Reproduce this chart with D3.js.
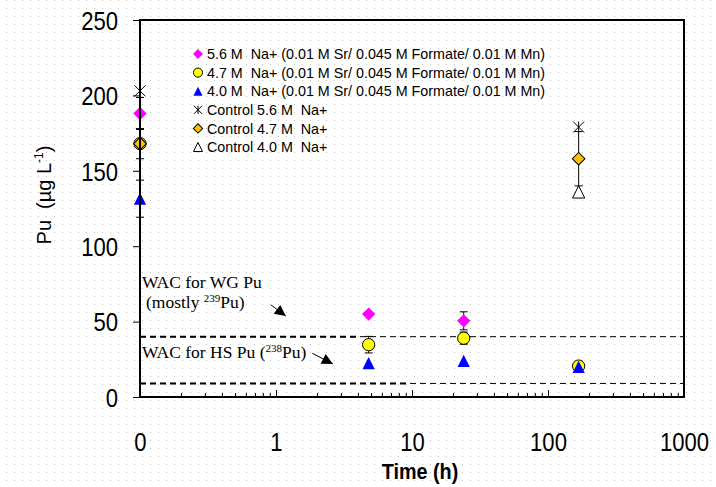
<!DOCTYPE html>
<html>
<head>
<meta charset="utf-8">
<script src="https://cdn.jsdelivr.net/npm/d3@7"></script>
<style>
  body { margin: 0; background: #fff; }
  svg { display: block; font-family: Arial, 'Liberation Sans', sans-serif; }
  text { white-space: pre; }
</style>
</head>
<body>
<div id="chart"></div>
<script>
// Data (hours; 0 h is drawn where 0.1 sits on the log axis)

var times = [0, 4.8, 24, 168]

var na56 = [188, 55, 50.5, null]
var na56Err = [10.6, 0, 6, 0]
var na47 = [168, 34.7, 39, 20.5]
var na47Err = [10, 5.5, 4, 0]
var na40 = [131.5, 22.5, 24, 20]
var na40Err = [12.3, 0, 0, 0]

var controlTimes = [0, 168]
var control56 = [203, 179]
var control47 = [168, 158]
var control47Err = [0, 18]
var control40 = [null, 136]

var wacWG = 40
var wacHS = 9

var xTickValues = [0.1, 1, 10, 100, 1000]
var xTickLabels = ['0', '1', '10', '100', '1000']
var yTickValues = [0, 50, 100, 150, 200, 250]

var legendLabels = [
  '5.6 M  Na+ (0.01 M Sr/ 0.045 M Formate/ 0.01 M Mn)',
  '4.7 M  Na+ (0.01 M Sr/ 0.045 M Formate/ 0.01 M Mn)',
  '4.0 M  Na+ (0.01 M Sr/ 0.045 M Formate/ 0.01 M Mn)',
  'Control 5.6 M  Na+',
  'Control 4.7 M  Na+',
  'Control 4.0 M  Na+'
]

// Set up margin/height/width

var margin = { top: 20, left: 140, right: 32, bottom: 90 }
var width = 716 - margin.left - margin.right
var height = 487 - margin.top - margin.bottom

var svg = d3
  .select('#chart')
  .append('svg')
  .attr('width', 716)
  .attr('height', 487)

// dotted page background
var defs = svg.append('defs')
var pattern = defs
  .append('pattern')
  .attr('id', 'dots')
  .attr('width', 8)
  .attr('height', 8)
  .attr('patternUnits', 'userSpaceOnUse')
pattern
  .append('rect')
  .attr('x', 6)
  .attr('y', 0)
  .attr('width', 1)
  .attr('height', 1)
  .attr('fill', '#c0c0c0')

svg
  .append('rect')
  .attr('width', 716)
  .attr('height', 487)
  .attr('fill', 'url(#dots)')

var g = svg
  .append('g')
  .attr('transform', 'translate(' + margin.left + ',' + margin.top + ')')

// Scales

var xPositionScale = d3.scaleLog().domain([0.1, 1000]).range([0, width])
var yPositionScale = d3.scaleLinear().domain([0, 250]).range([height, 0])

function xPos(t) {
  return xPositionScale(t === 0 ? 0.1 : t)
}

// Custom symbols

var squareTriangle = {
  draw: function(context, size) {
    var r = Math.sqrt(size) / 2
    context.moveTo(0, -r)
    context.lineTo(r, r)
    context.lineTo(-r, r)
    context.closePath()
  }
}

var starCross = {
  draw: function(context, size) {
    var r = Math.sqrt(size) / 2
    context.moveTo(-r, -r)
    context.lineTo(r, r)
    context.moveTo(r, -r)
    context.lineTo(-r, r)
    context.moveTo(0, -r)
    context.lineTo(0, r)
  }
}

// Series (drawing order matters for overlaps)

var series = [
  { times: controlTimes, values: control40, err: [0, 0], type: squareTriangle, size: 150, fill: 'none', stroke: '#000', rotate: 0, legend: 5 },
  { times: controlTimes, values: control47, err: control47Err, type: d3.symbolSquare, size: 0, fill: 'none', stroke: 'none', rotate: 45, legend: -1 },
  { times: times, values: na56, err: na56Err, type: d3.symbolSquare, size: 88, fill: '#ff00ff', stroke: 'none', rotate: 45, legend: 0 },
  { times: times, values: na47, err: na47Err, type: d3.symbolCircle, size: 118, fill: '#ffff00', stroke: '#000', rotate: 0, legend: 1 },
  { times: controlTimes, values: control47, err: [0, 0], type: d3.symbolSquare, size: 80, fill: '#ffc000', stroke: '#000', rotate: 45, legend: 4 },
  { times: times, values: na40, err: na40Err, type: squareTriangle, size: 150, fill: '#0000ff', stroke: 'none', rotate: 0, legend: 2 },
  { times: controlTimes, values: control56, err: [0, 0], type: starCross, size: 120, fill: 'none', stroke: '#000', rotate: 0, legend: 3 }
]

// WAC lines (thin full width, heavier near the labels)

;[wacWG, wacHS].forEach(function(level) {
  g.append('line')
    .attr('x1', 0)
    .attr('x2', width)
    .attr('y1', yPositionScale(level))
    .attr('y2', yPositionScale(level))
    .attr('stroke', '#000')
    .attr('stroke-width', 1)
    .attr('stroke-dasharray', '6,4')
})

g.append('line')
  .attr('x1', xPositionScale(0.1))
  .attr('x2', xPositionScale(4))
  .attr('y1', yPositionScale(wacWG))
  .attr('y2', yPositionScale(wacWG))
  .attr('stroke', '#000')
  .attr('stroke-width', 2)
  .attr('stroke-dasharray', '6,4')

g.append('line')
  .attr('x1', xPositionScale(0.1))
  .attr('x2', xPositionScale(9.3))
  .attr('y1', yPositionScale(wacHS))
  .attr('y2', yPositionScale(wacHS))
  .attr('stroke', '#000')
  .attr('stroke-width', 2)
  .attr('stroke-dasharray', '6,4')

// Error bars

series.forEach(function(s) {
  s.times.forEach(function(t, i) {
    var v = s.values[i]
    var e = s.err[i]
    if (v === null || !e) return
    var x = xPos(t)
    g.append('line')
      .attr('x1', x).attr('x2', x)
      .attr('y1', yPositionScale(v - e)).attr('y2', yPositionScale(v + e))
      .attr('stroke', '#000')
    ;[v - e, v + e].forEach(function(c) {
      g.append('line')
        .attr('x1', x - 4).attr('x2', x + 4)
        .attr('y1', yPositionScale(c)).attr('y2', yPositionScale(c))
        .attr('stroke', '#000')
    })
  })
})

// Markers

series.forEach(function(s) {
  if (s.size === 0) return
  var symbol = d3.symbol().type(s.type).size(s.size)
  s.times.forEach(function(t, i) {
    var v = s.values[i]
    if (v === null) return
    g.append('path')
      .attr('d', symbol)
      .attr('transform', 'translate(' + xPos(t) + ',' + yPositionScale(v) + ') rotate(' + s.rotate + ')')
      .attr('fill', s.fill)
      .attr('stroke', s.stroke)
      .attr('stroke-width', 1)
  })
})

// Frame

g.append('rect')
  .attr('width', width)
  .attr('height', height)
  .attr('fill', 'none')
  .attr('stroke', '#000')
  .attr('stroke-width', 2)

// Axes

var minorTicks = xPositionScale.ticks().filter(function(d) {
  return xTickValues.indexOf(d) === -1
})

var xMinorAxis = d3.axisBottom(xPositionScale)
  .tickValues(minorTicks)
  .tickSizeInner(-4)
  .tickSizeOuter(0)
  .tickFormat('')
g.append('g')
  .attr('class', 'axis x-minor')
  .attr('transform', 'translate(0,' + height + ')')
  .call(xMinorAxis)

var xAxis = d3.axisBottom(xPositionScale)
  .tickValues(xTickValues)
  .tickSizeInner(-7)
  .tickSizeOuter(0)
  .tickFormat(function(d, i) {
    return xTickLabels[i]
  })
g.append('g')
  .attr('class', 'axis x-axis')
  .attr('transform', 'translate(0,' + height + ')')
  .call(xAxis)

var yAxis = d3.axisLeft(yPositionScale)
  .tickValues(yTickValues)
  .tickSizeInner(7)
  .tickSizeOuter(0)
g.append('g')
  .attr('class', 'axis y-axis')
  .call(yAxis)

g.selectAll('.axis .domain').remove()
g.selectAll('.axis line').attr('stroke', '#000')

g.selectAll('.x-axis text')
  .attr('y', 54)
  .attr('dy', 0)
  .attr('font-size', 26)
  .attr('font-family', 'Arial, Liberation Sans, sans-serif')
  .attr('fill', '#000')
  .attr('transform', 'scale(0.85,1)')

g.selectAll('.y-axis text')
  .attr('x', -22 / 0.85)
  .attr('dy', '0.36em')
  .attr('font-size', 26)
  .attr('font-family', 'Arial, Liberation Sans, sans-serif')
  .attr('fill', '#000')
  .attr('transform', 'scale(0.85,1)')

// Axis titles

svg
  .append('text')
  .attr('x', margin.left + xPositionScale(10) + 8)
  .attr('y', 479)
  .attr('text-anchor', 'middle')
  .attr('font-size', 22)
  .attr('font-weight', 'bold')
  .attr('transform', 'scale(0.9,1)')
  .attr('transform-origin', (margin.left + xPositionScale(10) + 8) + ' 479')
  .text('Time (h)')

var yTitle = svg
  .append('text')
  .attr('transform', 'translate(51,195) rotate(-90)')
  .attr('text-anchor', 'middle')
  .attr('font-size', 20)
yTitle.append('tspan').text('Pu  (\u00b5g L')
yTitle.append('tspan').attr('font-size', 12).attr('dy', -8).text('-1')
yTitle.append('tspan').attr('dy', 8).text(')')

// Legend

var legendSymbols = []
series.forEach(function(s) {
  if (s.legend >= 0) legendSymbols[s.legend] = s
})

var legend = svg
  .append('g')
  .attr('transform', 'translate(198,54)')

legendLabels.forEach(function(label, i) {
  var s = legendSymbols[i]
  var row = legend.append('g').attr('transform', 'translate(0,' + i * 18.6 + ')')
  row
    .append('path')
    .attr('d', d3.symbol().type(s.type).size(s.size * 0.55))
    .attr('transform', 'rotate(' + s.rotate + ')')
    .attr('fill', s.fill)
    .attr('stroke', s.stroke)
  row
    .append('text')
    .attr('x', 9)
    .attr('dy', '0.36em')
    .attr('font-size', 14.3)
    .text(label)
})

// Annotations

var serif = 'Times New Roman, Liberation Serif, serif'

g.append('text')
  .attr('x', 2)
  .attr('y', yPositionScale(72))
  .attr('font-family', serif)
  .attr('font-size', 17.5)
  .text('WAC for WG Pu')

var mostly = g.append('text')
  .attr('x', 6)
  .attr('y', yPositionScale(59))
  .attr('font-family', serif)
  .attr('font-size', 17.5)
mostly.append('tspan').text('(mostly ')
mostly.append('tspan').attr('font-size', 11).attr('dy', -6).text('239')
mostly.append('tspan').attr('dy', 6).text('Pu)')

var hs = g.append('text')
  .attr('x', 2)
  .attr('y', yPositionScale(25.9))
  .attr('font-family', serif)
  .attr('font-size', 17.5)
hs.append('tspan').text('WAC for HS Pu (')
hs.append('tspan').attr('font-size', 11).attr('dy', -6).text('238')
hs.append('tspan').attr('dy', 6).text('Pu)')

defs
  .append('marker')
  .attr('id', 'arrow')
  .attr('viewBox', '0 0 10 10')
  .attr('refX', 10)
  .attr('refY', 5)
  .attr('markerWidth', 14)
  .attr('markerHeight', 11)
  .attr('markerUnits', 'userSpaceOnUse')
  .attr('orient', 'auto')
  .append('path')
  .attr('d', 'M0,0L10,5L0,10z')
  .attr('fill', '#000')

var arrows = [
  [[0.92, 61], [1.18, 53.7]],
  [[1.85, 29], [2.62, 21.9]]
]
arrows.forEach(function(a) {
  g.append('line')
    .attr('x1', xPositionScale(a[0][0]))
    .attr('y1', yPositionScale(a[0][1]))
    .attr('x2', xPositionScale(a[1][0]))
    .attr('y2', yPositionScale(a[1][1]))
    .attr('stroke', '#000')
    .attr('stroke-width', 1)
    .attr('marker-end', 'url(#arrow)')
})
</script>
</body>
</html>
